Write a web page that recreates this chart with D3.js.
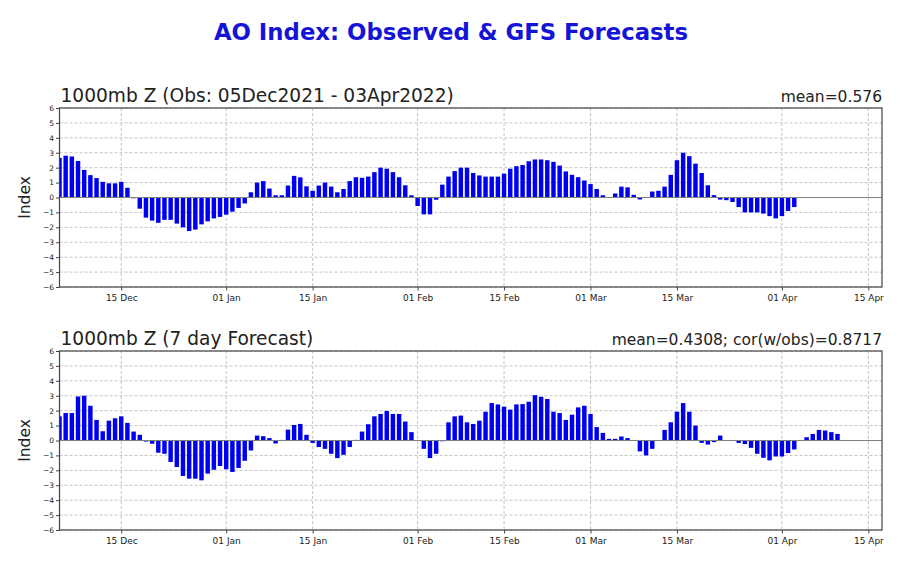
<!DOCTYPE html>
<html>
<head>
<meta charset="utf-8">
<script src="https://cdn.jsdelivr.net/npm/d3@7"></script>
<style>
  body { margin: 0; background: #fff; }
  text { font-family: "DejaVu Sans", sans-serif; }
</style>
</head>
<body>
<script>
// AO index, observed and 7 day forecast, daily values from 05 Dec 2021
const startDate = '2021-12-05'
const obsValues = [
  2.65, 2.8, 2.75, 2.45, 1.85, 1.5, 1.3, 1.05, 0.95, 0.95, 1.05, 0.65, -0.05, -0.75, -1.35, -1.55, -1.7, -1.5, -1.5, -1.75, -2.0, -2.25, -2.15, -1.8, -1.6, -1.4, -1.3,
  -1.15, -0.95, -0.7, -0.4, 0.35, 1.0, 1.1, 0.6, 0.15, 0.15, 0.8, 1.45, 1.35, 0.75, 0.45, 0.8, 1.0, 0.73, 0.35, 0.57, 1.1, 1.36, 1.32, 1.4, 1.7, 2.0, 1.93, 1.7, 1.36, 0.82, 0.15,
  -0.57, -1.13, -1.13, -0.15, 0.86, 1.4, 1.77, 2.0, 2.0, 1.64, 1.48, 1.4, 1.4, 1.4, 1.6, 1.93, 2.1, 2.18, 2.43, 2.55, 2.55, 2.5, 2.39, 2.14, 1.75, 1.52, 1.36, 1.14,
  0.9, 0.57, 0.15, 0.02, 0.27, 0.73, 0.68, 0.18, -0.13, 0, 0.4, 0.45, 0.73, 1.52, 2.5, 3.0, 2.77, 2.27, 1.64, 0.82, 0.16, -0.14, -0.18, -0.3, -0.64, -1.0, -1.0, -1.0, -1.08, -1.25, -1.4,
  -1.25, -0.9, -0.64
]
const fcstValues = [
  1.62, 1.84, 1.84, 2.95, 3.0, 2.33, 1.38, 0.62, 1.33, 1.49, 1.62, 1.18, 0.6, 0.38, -0.07, -0.22, -0.82, -0.89, -1.44, -1.78, -2.38, -2.56, -2.56, -2.67, -2.22, -1.96, -1.71,
  -1.93, -2.11, -1.84, -1.36, -0.67, 0.33, 0.29, 0.16, -0.2, 0.04, 0.73, 1.04, 1.11, 0.38, -0.16, -0.44, -0.56, -0.89, -1.18, -0.96, -0.44, 0.04, 0.6, 1.09, 1.62, 1.78, 1.98, 1.78, 1.78, 1.27, 0.56,
  0, -0.56, -1.18, -0.89, -0.05, 1.22, 1.62, 1.67, 1.22, 1.11, 1.33, 1.93, 2.51, 2.42, 2.27, 2.07, 2.42, 2.44, 2.6, 3.04, 2.93, 2.78, 1.93, 1.84, 1.38, 1.73, 2.22, 2.33,
  1.78, 0.9, 0.51, 0.11, 0.11, 0.27, 0.16, 0, -0.73, -1.0, -0.56, 0, 0.71, 1.22, 1.93, 2.51, 1.93, 1.0, -0.16, -0.27, -0.11, 0.33, 0, 0, -0.16, -0.24, -0.49, -0.89, -1.16, -1.33, -1.07,
  -1.07, -0.84, -0.6, 0, 0.22, 0.44, 0.71, 0.67, 0.56, 0.44
]
const tickDates = ['2021-12-15', '2022-01-01', '2022-01-15', '2022-02-01', '2022-02-15', '2022-03-01', '2022-03-15', '2022-04-01', '2022-04-15']
const tickLabels = ['15 Dec', '01 Jan', '15 Jan', '01 Feb', '15 Feb', '01 Mar', '15 Mar', '01 Apr', '15 Apr']
const yTicks = [-6, -5, -4, -3, -2, -1, 0, 1, 2, 3, 4, 5, 6]
const panelTitles = ['1000mb Z (Obs: 05Dec2021 - 03Apr2022)', '1000mb Z (7 day Forecast)']
const panelStats = ['mean=0.576', 'mean=0.4308; cor(w/obs)=0.8717']

const W = 915, H = 580
const left = 59.5, right = 882
const panelTops = [108, 351]
const panelH = 179

const parse = d3.utcParse('%Y-%m-%d')
const t0 = parse(startDate)

const x = d3.scaleUtc()
    .domain([t0, new Date(Date.UTC(2022, 3, 17, 5))])
    .range([left, right])
const dayW = x(d3.utcDay.offset(t0, 1)) - x(t0)

const svg = d3.select('body')
    .append('svg')
    .attr('width', W)
    .attr('height', H)

svg.append('text')
    .attr('x', 451)
    .attr('y', 40)
    .attr('text-anchor', 'middle')
    .style('font-size', '22.8px')
    .style('font-weight', 'bold')
    .style('fill', '#1414d8')
    .text('AO Index: Observed & GFS Forecasts')

function drawPanel(idx, values) {
    var top = panelTops[idx]
    var y = d3.scaleLinear().domain([-6, 6]).range([top + panelH, top])
    var g = svg.append('g')

    g.append('clipPath')
        .attr('id', 'clip' + idx)
        .append('rect')
        .attr('x', left).attr('y', top)
        .attr('width', right - left).attr('height', panelH)

    // grid
    g.selectAll('.hgrid')
        .data(yTicks)
        .enter()
        .append('line')
        .attr('x1', left).attr('x2', right)
        .attr('y1', function(d) { return y(d) })
        .attr('y2', function(d) { return y(d) })
        .attr('stroke', '#bdbdbd')
        .attr('stroke-width', 0.9)
        .attr('stroke-dasharray', '3,2')

    g.selectAll('.vgrid')
        .data(tickDates)
        .enter()
        .append('line')
        .attr('x1', function(d) { return x(parse(d)) })
        .attr('x2', function(d) { return x(parse(d)) })
        .attr('y1', top).attr('y2', top + panelH)
        .attr('stroke', '#bdbdbd')
        .attr('stroke-width', 0.9)
        .attr('stroke-dasharray', '3,2')

    // bars
    g.append('g')
        .attr('clip-path', 'url(#clip' + idx + ')')
        .selectAll('rect')
        .data(values)
        .enter()
        .append('rect')
        .attr('x', function(d, i) { return x(d3.utcDay.offset(t0, i)) - dayW * 0.36 })
        .attr('width', dayW * 0.72)
        .attr('y', function(d) { return y(Math.max(0, d)) })
        .attr('height', function(d) { return Math.abs(y(d) - y(0)) })
        .attr('fill', '#0000f0')

    // zero line
    g.append('line')
        .attr('x1', left).attr('x2', right)
        .attr('y1', y(0)).attr('y2', y(0))
        .attr('stroke', '#808080')
        .attr('stroke-width', 1)

    // axes
    var ya = g.append('g')
        .attr('transform', 'translate(' + left + ',0)')
        .call(d3.axisLeft(y).tickValues(yTicks).tickSize(3.5).tickPadding(2).tickFormat(d3.format('d')))
    ya.select('.domain').remove()
    ya.selectAll('text').style('font-size', '7.5px').style('font-family', 'DejaVu Sans').attr('fill', '#222')
    ya.selectAll('line').attr('stroke', '#444')

    var xa = g.append('g')
        .attr('transform', 'translate(0,' + (top + panelH) + ')')
        .call(d3.axisBottom(x)
            .tickValues(tickDates.map(parse))
            .tickFormat(function(d, i) { return tickLabels[i] })
            .tickSize(3.5).tickPadding(4))
    xa.select('.domain').remove()
    xa.selectAll('text').style('font-size', '9px').style('font-family', 'DejaVu Sans').attr('fill', '#222')
    xa.selectAll('line').attr('stroke', '#444')

    // frame
    g.append('rect')
        .attr('x', left).attr('y', top)
        .attr('width', right - left).attr('height', panelH)
        .attr('fill', 'none')
        .attr('stroke', '#444')
        .attr('stroke-width', 1.2)

    g.append('text')
        .attr('x', left + 1)
        .attr('y', top - 6)
        .style('font-size', '18.6px')
        .style('fill', '#222')
        .text(panelTitles[idx])

    g.append('text')
        .attr('x', right)
        .attr('y', top - 6)
        .attr('text-anchor', 'end')
        .style('font-size', '15.5px')
        .style('fill', '#222')
        .text(panelStats[idx])

    g.append('text')
        .attr('transform', 'translate(30,' + (top + panelH / 2) + ') rotate(-90)')
        .attr('text-anchor', 'middle')
        .style('font-size', '15.5px')
        .style('fill', '#222')
        .text('Index')
}

drawPanel(0, obsValues)
drawPanel(1, fcstValues)
</script>
</body>
</html>
